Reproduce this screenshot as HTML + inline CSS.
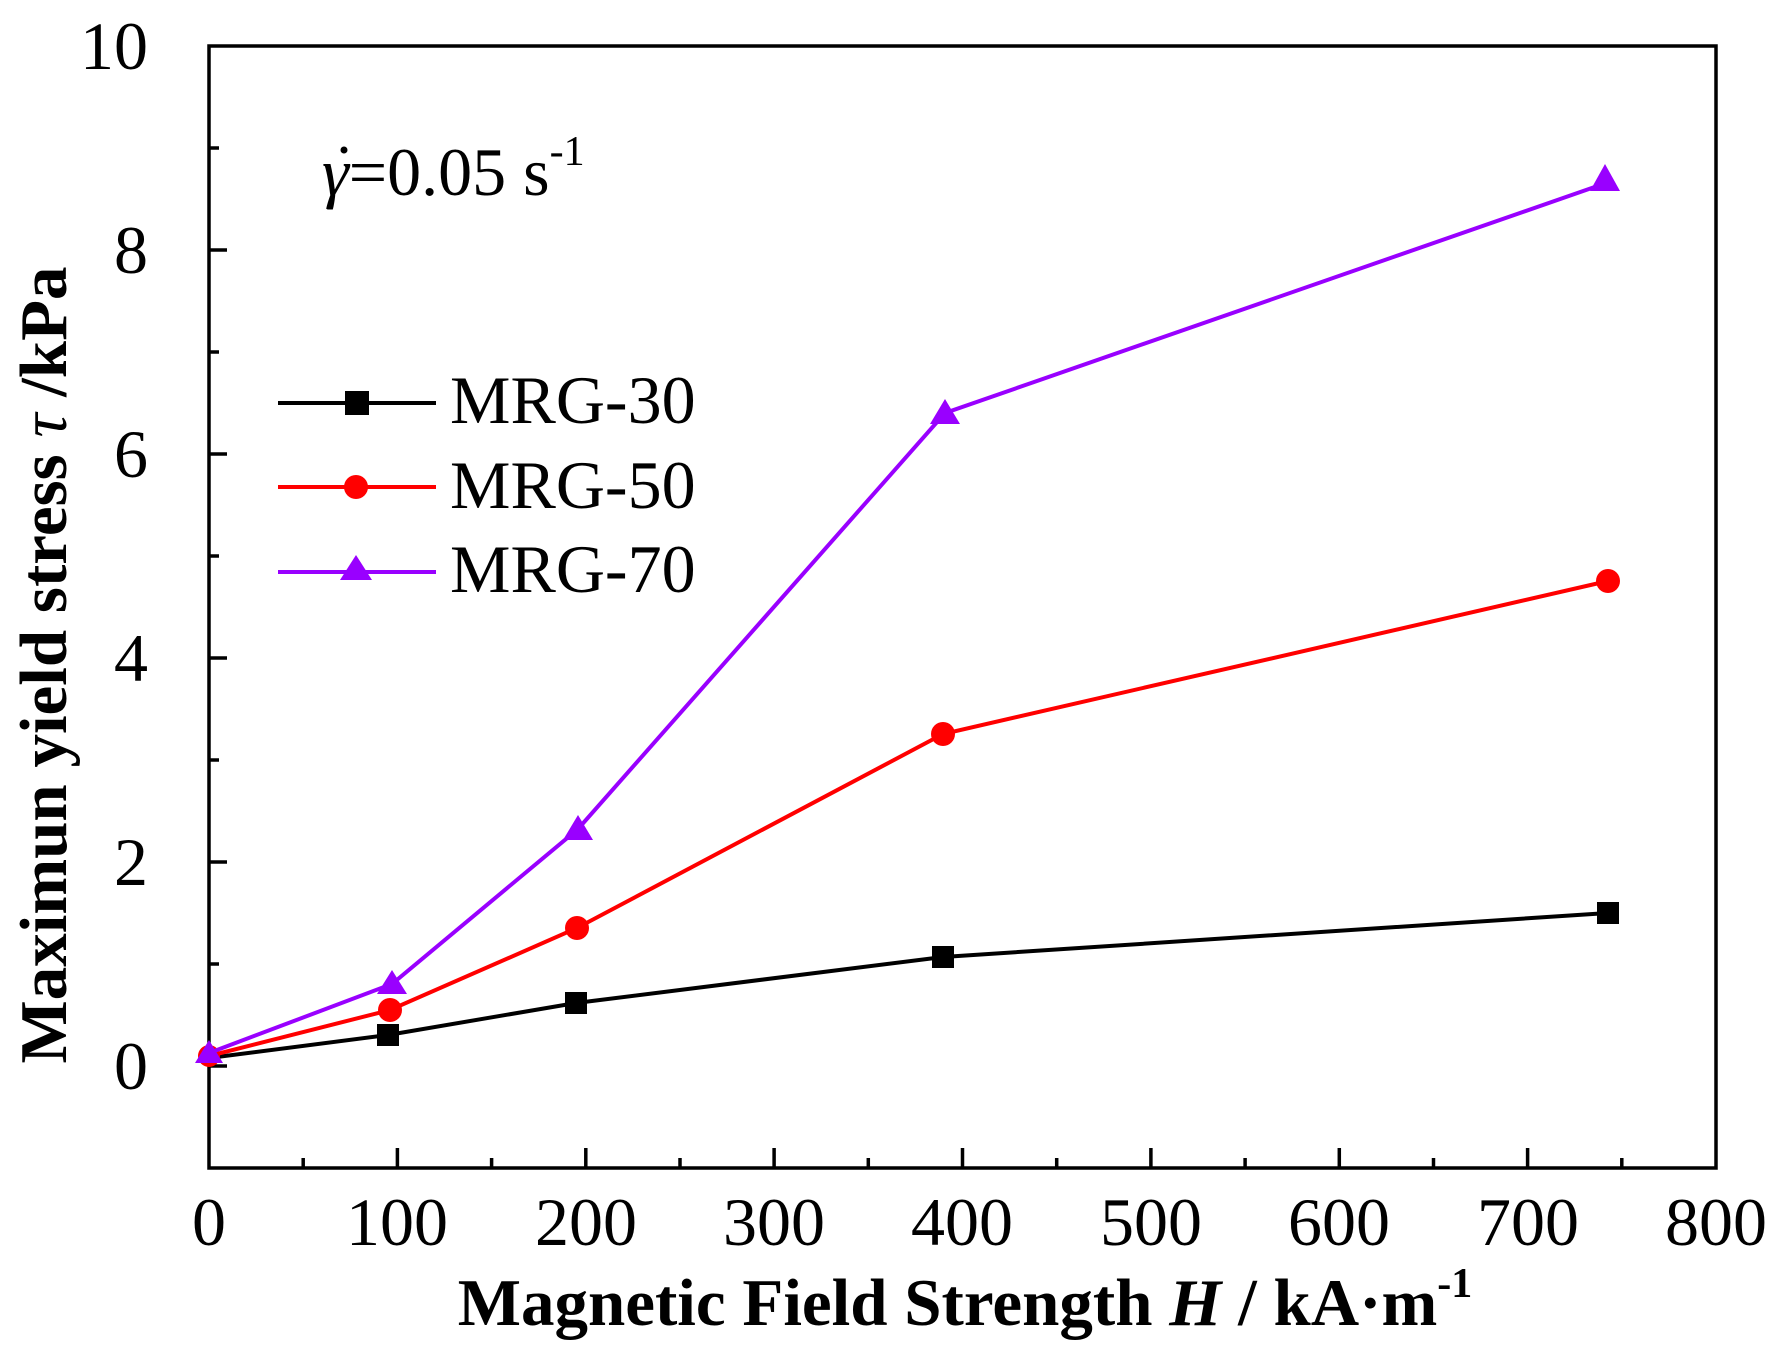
<!DOCTYPE html>
<html><head><meta charset="utf-8"><style>html,body{margin:0;padding:0;background:#fff}svg{display:block}</style></head>
<body>
<svg width="1792" height="1359" viewBox="0 0 1792 1359" xmlns="http://www.w3.org/2000/svg" font-family="Liberation Serif, serif">
<rect width="1792" height="1359" fill="#fff"/>
<rect x="209" y="46" width="1507" height="1122" fill="none" stroke="#000" stroke-width="3.5"/>
<g stroke="#000" stroke-width="3.5">
<line x1="397.4" y1="1168" x2="397.4" y2="1148"/><line x1="585.8" y1="1168" x2="585.8" y2="1148"/><line x1="774.1" y1="1168" x2="774.1" y2="1148"/><line x1="962.5" y1="1168" x2="962.5" y2="1148"/><line x1="1150.9" y1="1168" x2="1150.9" y2="1148"/><line x1="1339.3" y1="1168" x2="1339.3" y2="1148"/><line x1="1527.6" y1="1168" x2="1527.6" y2="1148"/>
<line x1="303.2" y1="1168" x2="303.2" y2="1158"/><line x1="491.6" y1="1168" x2="491.6" y2="1158"/><line x1="680" y1="1168" x2="680" y2="1158"/><line x1="868.3" y1="1168" x2="868.3" y2="1158"/><line x1="1056.7" y1="1168" x2="1056.7" y2="1158"/><line x1="1245.1" y1="1168" x2="1245.1" y2="1158"/><line x1="1433.5" y1="1168" x2="1433.5" y2="1158"/><line x1="1621.8" y1="1168" x2="1621.8" y2="1158"/>
<line x1="209" y1="1066" x2="227" y2="1066"/><line x1="209" y1="862" x2="227" y2="862"/><line x1="209" y1="658" x2="227" y2="658"/><line x1="209" y1="454" x2="227" y2="454"/><line x1="209" y1="250" x2="227" y2="250"/>
<line x1="209" y1="964" x2="219" y2="964"/><line x1="209" y1="760" x2="219" y2="760"/><line x1="209" y1="556" x2="219" y2="556"/><line x1="209" y1="352" x2="219" y2="352"/><line x1="209" y1="148" x2="219" y2="148"/>
</g>
<g font-size="68" text-anchor="middle">
<text x="209" y="1245">0</text><text x="397" y="1245">100</text><text x="586" y="1245">200</text><text x="774" y="1245">300</text><text x="962" y="1245">400</text><text x="1151" y="1245">500</text><text x="1339" y="1245">600</text><text x="1528" y="1245">700</text><text x="1716" y="1245">800</text>
</g>
<g font-size="68" text-anchor="end">
<text x="148" y="1089">0</text><text x="148" y="885">2</text><text x="148" y="681">4</text><text x="148" y="477">6</text><text x="148" y="273">8</text><text x="148" y="69">10</text>
</g>
<text x="965" y="1325" font-size="67" font-weight="bold" text-anchor="middle">Magnetic Field Strength <tspan font-style="italic">H</tspan> / kA·m<tspan font-size="42" dy="-28">-1</tspan></text>
<text transform="translate(66,665) rotate(-90)" font-size="67" font-weight="bold" text-anchor="middle">Maximun yield stress <tspan font-style="italic" font-weight="normal">τ</tspan> /kPa</text>
<text x="322" y="195" font-size="68"><tspan font-style="italic">γ</tspan>=0.05 s<tspan font-size="42" dy="-30">-1</tspan></text>
<circle cx="344" cy="150" r="3.5" fill="#000"/>
<!-- series -->
<polyline fill="none" stroke="#000" stroke-width="4" points="209,1058 388,1035 576,1003 943,957 1608,913"/>
<g fill="#000"><rect x="377" y="1024" width="22" height="22"/><rect x="565" y="992" width="22" height="22"/><rect x="932" y="946" width="22" height="22"/><rect x="1597" y="902" width="22" height="22"/></g>
<polyline fill="none" stroke="#f00" stroke-width="4" points="209,1056 390,1010 577,928 943,734 1608,581"/>
<g fill="#f00"><circle cx="209" cy="1056" r="11"/><circle cx="390" cy="1010" r="12"/><circle cx="577" cy="928" r="12"/><circle cx="943" cy="734" r="12"/><circle cx="1608" cy="581" r="12"/></g>
<polyline fill="none" stroke="#9900ff" stroke-width="4" points="209,1053 392,984 578,829 945,413 1609,182"/>
<g fill="#9900ff"><polygon points="209,1040 223,1063 195,1063"/><polygon points="392,970 407,994 377,994"/><polygon points="578,815 593,840 563,840"/><polygon points="945,399 960,424 930,424"/><polygon points="1605,164 1620,191 1590,191"/></g>
<!-- legend -->
<line x1="278" y1="403" x2="436" y2="403" stroke="#000" stroke-width="4"/><rect x="345" y="391" width="24" height="24" fill="#000"/>
<line x1="278" y1="487" x2="436" y2="487" stroke="#f00" stroke-width="4"/><circle cx="356" cy="487" r="12" fill="#f00"/>
<line x1="278" y1="572" x2="436" y2="572" stroke="#9900ff" stroke-width="4"/><polygon points="356,555 372,580 340,580" fill="#9900ff"/>
<g font-size="68"><text x="450" y="423">MRG-30</text><text x="450" y="508">MRG-50</text><text x="450" y="592">MRG-70</text></g>
</svg>
</body></html>
